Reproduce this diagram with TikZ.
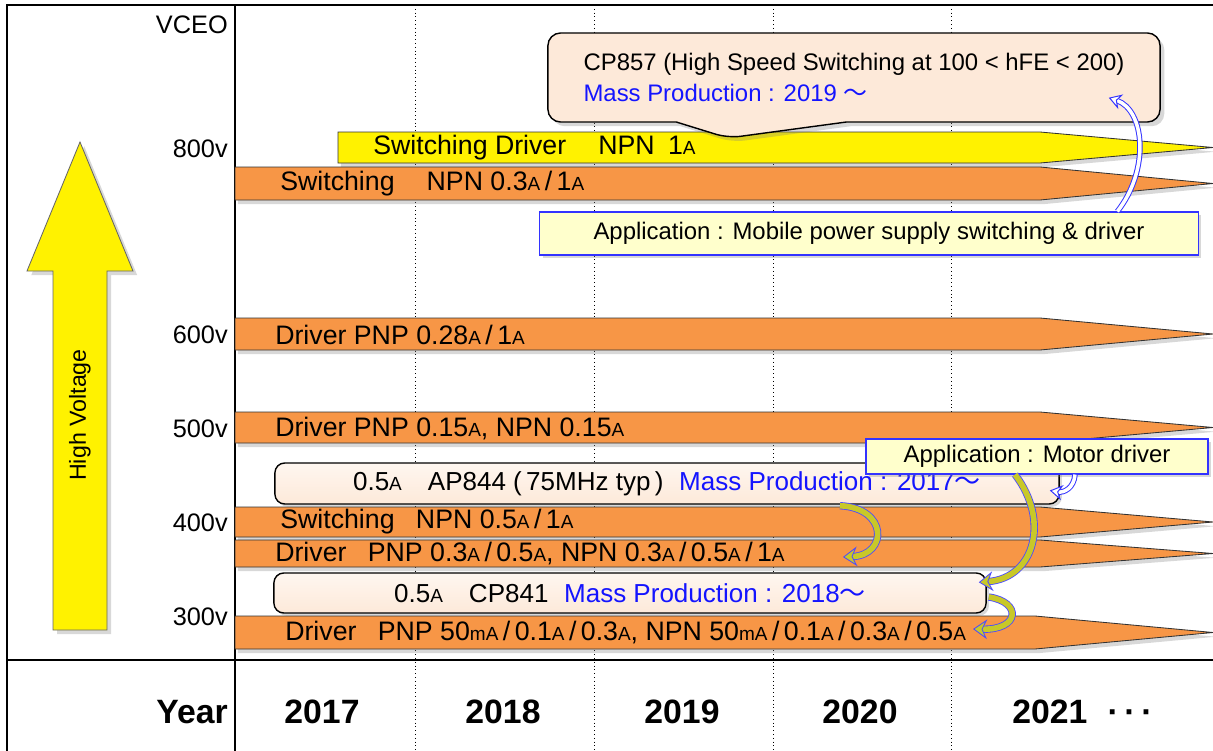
\documentclass[tikz,border=0pt]{standalone}
\usepackage{fontspec}
\setmainfont{Liberation Sans}
\newfontfamily\jpfont{Noto Sans CJK JP}
\usepackage{xcolor}
\usetikzlibrary{shapes, shapes.callouts, arrows.meta, positioning, calc, shadows}

\definecolor{naranja}{RGB}{247,150,70}
\definecolor{durazno}{RGB}{253,233,217}
\definecolor{crema}{RGB}{255,255,204}
\definecolor{azulprod}{RGB}{20,20,255}
\definecolor{oliva}{RGB}{200,200,40}

\newcommand{\uA}{{\fontsize{13.5}{13.5}\selectfont A}}
\newcommand{\umA}{{\fontsize{13.5}{13.5}\selectfont mA}}
\newcommand{\kara}{{\jpfont ～}}

\tikzset{
  bar/.style={draw=black!80, fill=naranja, line width=0.6pt,
    drop shadow={opacity=0.3, shadow xshift=2pt, shadow yshift=-3pt}},
  bartext/.style={anchor=west, inner sep=0pt, font=\fontsize{19}{21}\selectfont},
  volt/.style={anchor=east, inner sep=0pt, font=\fontsize{18}{20}\selectfont},
  yearlbl/.style={inner sep=0pt, font=\bfseries\fontsize{24}{26}\selectfont},
  prodbox/.style={draw=black, line width=1pt, rounded corners=7pt,
    top color=durazno!40, bottom color=durazno, font=\fontsize{18.5}{20}\selectfont,
    drop shadow={opacity=0.3, shadow xshift=2pt, shadow yshift=-2pt}},
  appbox/.style={draw=blue!80, line width=0.8pt, fill=crema,
    font=\fontsize{17}{19}\selectfont,
    drop shadow={opacity=0.3, shadow xshift=2pt, shadow yshift=-2pt}},
  hollow/.style={draw=blue!80, double=white, double distance=2.5pt,
    line width=0.7pt, -{Stealth[length=9pt, width=11pt, fill=white]}},
  curl/.style={draw=blue!70, double=oliva, double distance=4pt,
    line width=0.6pt, -{Stealth[length=10pt, width=14pt, fill=oliva]}}
}

\begin{document}
\begin{tikzpicture}[x=0.025cm, y=-0.025cm]
        \useasboundingbox (0,0) rectangle (1213,751);
        \fill[white] (0,0) rectangle (1213,751);
        % Lineas punteadas de los años
        \draw[dotted, line width=0.7pt] (415,5) -- (415,751);
        \draw[dotted, line width=0.7pt] (594,5) -- (594,751);
        \draw[dotted, line width=0.7pt] (773,5) -- (773,751);
        \draw[dotted, line width=0.7pt] (951,5) -- (951,751);
        % Marco
        \draw[line width=1.2pt] (7,751) -- (7,5) -- (1213,5);
        \draw[line width=1.2pt] (235,5) -- (235,751);
        \draw[line width=1.2pt] (7,660) -- (1213,660);
        % Flecha grande
        \draw[fill=yellow, draw=black!60, line width=0.6pt,
          drop shadow={opacity=0.3, shadow xshift=3pt, shadow yshift=-3pt}]
          (53,630) -- (53,271) -- (27,271) -- (80,142) -- (133,271) -- (107,271) -- (107,630) -- cycle;
        \node[rotate=90, font=\fontsize{16.5}{18}\selectfont] (hv) at (80,415) {High Voltage};
        % Voltajes
        \node[volt] (vceo) at (228,25) {VCEO};
        \node[volt] (v800) at (228,149) {800v};
        \node[volt] (v600) at (228,335) {600v};
        \node[volt] (v500) at (228,429) {500v};
        \node[volt] (v400) at (228,523) {400v};
        \node[volt] (v300) at (228,617) {300v};
        % Barras 800v
        \draw[bar, fill=yellow] (338,132) -- (1040,132) -- (1213,147.5) -- (1040,163) -- (338,163) -- cycle;
        \node[bartext] (sd800) at (373,148) {Switching Driver\hspace{1.2em}NPN\hspace{0.5em}1\uA};
        \draw[bar] (235,167) -- (1040,167) -- (1213,183.5) -- (1040,200) -- (235,200) -- cycle;
        \node[bartext] (sw800) at (280,184) {Switching\hspace{1.2em}NPN 0.3\uA\,/\,1\uA};
        % Barra 600v
        \draw[bar] (235,318) -- (1040,318) -- (1213,334) -- (1040,350) -- (235,350) -- cycle;
        \node[bartext] (dr600) at (275,335) {Driver PNP 0.28\uA\,/\,1\uA};
        % Barra 500v
        \draw[bar] (235,412) -- (1040,412) -- (1213,427.5) -- (1040,443) -- (235,443) -- cycle;
        \node[bartext] (dr500) at (275,429) {Driver PNP 0.15\uA, NPN 0.15\uA};
        % Barras 400v
        \draw[bar] (235,507) -- (1040,507) -- (1213,522) -- (1040,537) -- (235,537) -- cycle;
        \node[bartext] (sw400) at (280,522) {Switching\hspace{0.8em}NPN 0.5\uA\,/\,1\uA};
        \draw[bar] (235,540) -- (1040,540) -- (1213,553.5) -- (1040,567) -- (235,567) -- cycle;
        \node[bartext] (dr400) at (275,554) {Driver\hspace{0.8em}PNP 0.3\uA\,/\,0.5\uA, NPN 0.3\uA\,/\,0.5\uA\,/\,1\uA};
        % Barra 300v
        \draw[bar] (235,616) -- (1035,616) -- (1213,632.5) -- (1035,649) -- (235,649) -- cycle;
        \node[bartext] (dr300) at (285,633) {Driver\hspace{0.8em}PNP 50\umA\,/\,0.1\uA\,/\,0.3\uA, NPN 50\umA\,/\,0.1\uA\,/\,0.3\uA\,/\,0.5\uA};
        % Productos
        \node[prodbox, minimum width=19.6cm, minimum height=1.025cm] (ap844) at (667,483.5)
          {0.5\uA\hspace{1em}AP844 (\,75MHz typ\,)\hspace{0.6em}\textcolor{azulprod}{Mass Production : 2017\kara}};
        \node[prodbox, minimum width=17.8cm, minimum height=1cm] (cp841) at (630,593)
          {0.5\uA\hspace{1em}CP841\hspace{0.6em}\textcolor{azulprod}{Mass Production : 2018\kara}};
        % Aplicaciones
        \node[appbox, minimum width=16.45cm, minimum height=1.075cm] (appmob) at (869,233.5)
          {Application : Mobile power supply switching \& driver};
        \node[appbox, minimum width=8.55cm, minimum height=0.875cm] (appmot) at (1037,456.5)
          {Application : Motor driver};
        % Globo CP857
        \node[rectangle callout, draw=black, line width=1pt, fill=durazno, rounded corners=9pt,
          minimum width=15.3cm, minimum height=2.225cm, align=left,
          callout absolute pointer={(728,138)}, callout pointer width=4.25cm,
          font=\fontsize{17}{22}\selectfont,
          drop shadow={opacity=0.3, shadow xshift=3pt, shadow yshift=-3pt}] (cp857) at (854,77.5)
          {CP857 (High Speed Switching at 100 < hFE < 200)\\
           \textcolor{azulprod}{Mass Production : 2019 \kara}};
        % Flechas
        \coordinate (t400) at (843,557);
        \coordinate (t300) at (973,629);
        \draw[hollow] ($(appmob.north west)+(578,0)$) .. controls (1150,170) and (1145,110) .. ($(cp857.south east)+(-52,-25)$);
        \draw[hollow] ($(appmot.south)+(38,0)$) .. controls (1074,488) and (1064,493) .. ($(ap844.east)+(-10,7)$);
        \draw[curl] ($(ap844.south)+(173,1)$) .. controls (888,508) and (888,555) .. (t400);
        \draw[curl] ($(appmot.south)+(-22,0)$) .. controls (1050,520) and (1035,578) .. ($(cp841.north east)+(-8,10)$);
        \draw[curl] ($(cp841.east)+(2,4)$) .. controls (1022,602) and (1020,630) .. (t300);
        % Años
        \node[yearlbl, anchor=east] (year) at (228,712) {Year};
        \node[yearlbl] (y17) at (322,712) {2017};
        \node[yearlbl] (y18) at (503,712) {2018};
        \node[yearlbl] (y19) at (682,712) {2019};
        \node[yearlbl] (y20) at (860,712) {2020};
        \node[yearlbl, anchor=west] (y21) at (1012,712) {2021\hspace{0.6em}·\,·\,·};
    \end{tikzpicture}
\end{document}
